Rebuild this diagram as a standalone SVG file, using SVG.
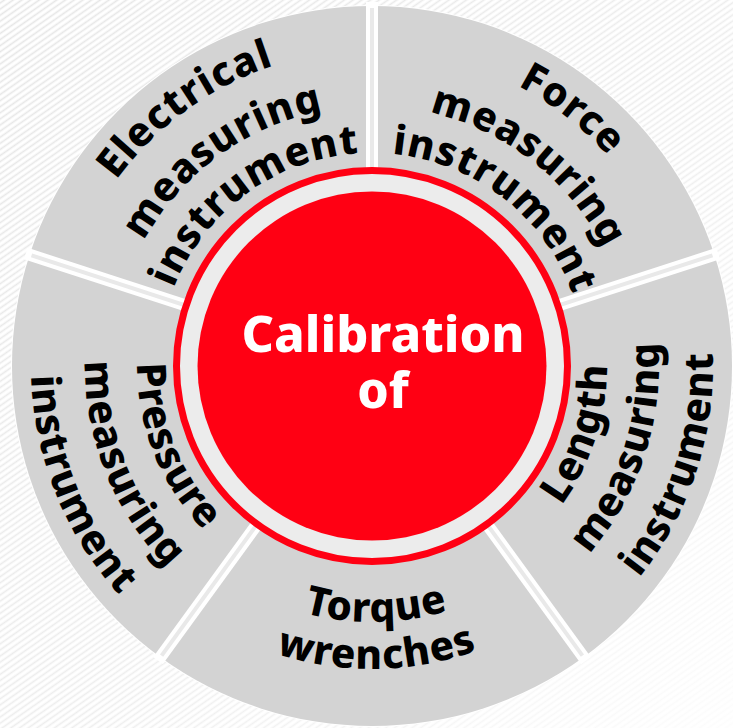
<svg xmlns="http://www.w3.org/2000/svg" width="733" height="728" viewBox="0 0 733 728">
  <defs>
    <style>
      .seg { fill: #d3d3d3; }
      .lbl { font-family: "Noto Sans", "Open Sans", "DejaVu Sans", sans-serif; font-weight: 800; font-size: 40.5px; letter-spacing: 1px; fill: #000; }
      .ctr { font-family: "Noto Sans", "Open Sans", "DejaVu Sans", sans-serif; font-weight: 800; font-size: 50px; fill: #fff; text-anchor: middle; }
      .gap { stroke: #ffffff; stroke-width: 12; }
      .gapin { stroke: #e9e9e9; stroke-width: 4; }
    </style>
    <pattern id="tex" patternUnits="userSpaceOnUse" width="5" height="5" patternTransform="rotate(-35)">
      <rect width="5" height="5" fill="#ffffff"/>
      <line x1="0" y1="2.5" x2="5" y2="2.5" stroke="#e6e6e6" stroke-width="1.6"/>
    </pattern>
    <linearGradient id="fade" x1="0" y1="0" x2="1" y2="1">
      <stop offset="0" stop-color="#ffffff" stop-opacity="0"/>
      <stop offset="0.55" stop-color="#ffffff" stop-opacity="0.3"/>
      <stop offset="1" stop-color="#ffffff" stop-opacity="0.9"/>
    </linearGradient>
    <!-- text arcs: clockwise (tops outward) -->
    <path id="e1" d="M68.24,453.10 A316,316 0 0 1 548.70,104.02"/>
    <path id="e2" d="M122.07,437.67 A260,260 0 0 1 517.39,150.45"/>
    <path id="e3" d="M167.25,424.71 A213,213 0 0 1 491.11,189.41"/>
    <path id="f1" d="M204.55,98.02 A316,316 0 0 1 672.53,463.65"/>
    <path id="f2" d="M234.22,145.51 A260,260 0 0 1 619.28,446.35"/>
    <path id="f3" d="M259.13,185.37 A213,213 0 0 1 574.58,431.82"/>
    <!-- text arcs: counter-clockwise (tops inward) -->
    <path id="l1" d="M380.20,600.86 A235,235 0 0 0 516.68,180.82"/>
    <path id="l2" d="M382.02,652.83 A287,287 0 0 0 548.69,139.84"/>
    <path id="l3" d="M383.90,706.79 A341,341 0 0 0 581.94,97.29"/>
    <path id="t1" d="M133.00,457.74 A256,256 0 0 0 614.05,449.35"/>
    <path id="t2" d="M89.13,474.59 A303,303 0 0 0 658.49,464.65"/>
    <path id="p1" d="M214.75,191.36 A235,235 0 0 0 380.20,600.86"/>
    <path id="p2" d="M179.96,152.72 A287,287 0 0 0 382.02,652.83"/>
    <path id="p3" d="M143.83,112.59 A341,341 0 0 0 383.90,706.79"/>
  </defs>

  <rect width="733" height="728" fill="url(#tex)"/>
  <rect width="733" height="728" fill="url(#fade)"/>

  <g id="segments-outline">
    <circle cx="372" cy="366" r="361" fill="#ffffff"/>
  </g>

  <g id="electrical">
    <path class="seg" d="M372,366 L29.62,254.75 A360,360 0 0 1 372,6 Z"/>
    <text class="lbl"><textPath href="#e1" startOffset="50%" text-anchor="middle">Electrical</textPath></text>
    <text class="lbl"><textPath href="#e2" startOffset="50%" text-anchor="middle">measuring</textPath></text>
    <text class="lbl"><textPath href="#e3" startOffset="50%" text-anchor="middle">instrument</textPath></text>
  </g>

  <g id="force">
    <path class="seg" d="M372,366 L372,6 A360,360 0 0 1 714.38,254.75 Z"/>
    <text class="lbl"><textPath href="#f1" startOffset="50%" text-anchor="middle">Force</textPath></text>
    <text class="lbl"><textPath href="#f2" startOffset="50%" text-anchor="middle">measuring</textPath></text>
    <text class="lbl"><textPath href="#f3" startOffset="50%" text-anchor="middle">instrument</textPath></text>
  </g>

  <g id="length">
    <path class="seg" d="M372,366 L714.38,254.75 A360,360 0 0 1 583.60,657.25 Z"/>
    <text class="lbl"><textPath href="#l1" startOffset="50%" text-anchor="middle">Length</textPath></text>
    <text class="lbl"><textPath href="#l2" startOffset="50%" text-anchor="middle">measuring</textPath></text>
    <text class="lbl"><textPath href="#l3" startOffset="50%" text-anchor="middle">instrument</textPath></text>
  </g>

  <g id="torque">
    <path class="seg" d="M372,366 L583.60,657.25 A360,360 0 0 1 160.40,657.25 Z"/>
    <text class="lbl"><textPath href="#t1" startOffset="50%" text-anchor="middle">Torque</textPath></text>
    <text class="lbl"><textPath href="#t2" startOffset="50%" text-anchor="middle">wrenches</textPath></text>
  </g>

  <g id="pressure">
    <path class="seg" d="M372,366 L160.40,657.25 A360,360 0 0 1 29.62,254.75 Z"/>
    <text class="lbl"><textPath href="#p1" startOffset="50%" text-anchor="middle">Pressure</textPath></text>
    <text class="lbl"><textPath href="#p2" startOffset="50%" text-anchor="middle">measuring</textPath></text>
    <text class="lbl"><textPath href="#p3" startOffset="50%" text-anchor="middle">instrument</textPath></text>
  </g>

  <g id="connectors">
    <g class="gap">
      <line x1="372" y1="366" x2="372" y2="2"/>
      <line x1="372" y1="366" x2="718.19" y2="253.51"/>
      <line x1="372" y1="366" x2="585.95" y2="660.49"/>
      <line x1="372" y1="366" x2="158.05" y2="660.49"/>
      <line x1="372" y1="366" x2="25.81" y2="253.51"/>
    </g>
    <g class="gapin">
      <line x1="372" y1="366" x2="372" y2="8"/>
      <line x1="372" y1="366" x2="712.48" y2="255.37"/>
      <line x1="372" y1="366" x2="582.42" y2="655.63"/>
      <line x1="372" y1="366" x2="161.58" y2="655.63"/>
      <line x1="372" y1="366" x2="31.52" y2="255.37"/>
    </g>
  </g>

  <g id="center">
    <circle cx="372" cy="366" r="195.5" fill="#ececec" stroke="#ff0013" stroke-width="7"/>
    <circle cx="372" cy="366" r="174.5" fill="#ff0013"/>
    <text class="ctr" x="383" y="352" textLength="283" lengthAdjust="spacingAndGlyphs">Calibration</text>
    <text class="ctr" x="383" y="408">of</text>
  </g>
</svg>
